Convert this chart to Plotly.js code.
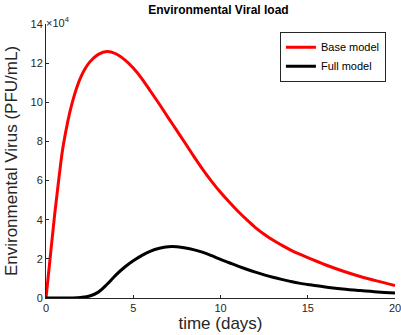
<!DOCTYPE html>
<html>
<head>
<meta charset="utf-8">
<script src="https://cdn.plot.ly/plotly-3.0.1.min.js"></script>
<style>html,body{margin:0;padding:0;background:#fff}#chart{width:401px;height:335px}</style>
</head>
<body>
<div id="chart"></div>
<script>
// Values in units of 10^4 PFU/mL
const baseT = [0, 0.25, 0.5, 0.75, 1, 1.5, 2, 2.5, 3, 3.5, 4, 4.5, 5, 5.5, 6, 6.5, 7, 7.5, 8, 8.5, 9, 9.5, 10, 10.5, 11, 11.5, 12, 12.5, 13, 13.5, 14, 14.5, 15, 16, 17, 18, 19, 20];
const baseV = [0, 2.15, 4.3, 6.2, 7.85, 9.97, 11.3, 12.05, 12.45, 12.6, 12.48, 12.18, 11.75, 11.2, 10.55, 9.9, 9.22, 8.55, 7.88, 7.2, 6.55, 5.95, 5.4, 4.9, 4.43, 4.0, 3.6, 3.26, 2.96, 2.7, 2.46, 2.25, 2.06, 1.7, 1.38, 1.1, 0.86, 0.64];
const fullT = [0, 0.5, 1, 1.5, 2, 2.5, 3, 3.5, 4, 4.5, 5, 5.5, 6, 6.5, 7, 7.5, 8, 8.5, 9, 9.5, 10, 10.5, 11, 11.5, 12, 12.5, 13, 13.5, 14, 14.5, 15, 16, 17, 18, 19, 20];
const fullV = [0, 0, 0, 0.005, 0.03, 0.1, 0.3, 0.7, 1.17, 1.57, 1.9, 2.18, 2.4, 2.54, 2.62, 2.62, 2.56, 2.46, 2.33, 2.16, 1.97, 1.8, 1.63, 1.47, 1.32, 1.18, 1.06, 0.95, 0.85, 0.76, 0.69, 0.56, 0.46, 0.38, 0.31, 0.26];
const xTicks = [0, 5, 10, 15, 20];
const yTicks = [0, 2, 4, 6, 8, 10, 12, 14];

const axisColor = '#262626';
const fontFam = 'Liberation Sans, Arial, sans-serif';

const traces = [
  {x: baseT, y: baseV, name: 'Base model', mode: 'lines', line: {color: '#ff0000', width: 3, shape: 'spline', smoothing: 1}},
  {x: fullT, y: fullV, name: 'Full model', mode: 'lines', line: {color: '#000000', width: 3, shape: 'spline', smoothing: 1}}
];

const layout = {
  width: 401, height: 335,
  margin: {l: 46, r: 6, t: 24, b: 37},
  paper_bgcolor: '#fff', plot_bgcolor: '#fff',
  font: {family: fontFam, color: axisColor, size: 11},
  title: {text: '<b>Environmental Viral load</b>', font: {size: 12, color: '#000', family: fontFam}, xref: 'paper', x: 0.494, xanchor: 'center', yref: 'container', y: 0.97, yanchor: 'middle'},
  showlegend: true,
  legend: {x: 0.974, xanchor: 'right', y: 0.972, yanchor: 'top', bgcolor: '#fff', bordercolor: '#262626', borderwidth: 1,
           font: {size: 11, color: '#000', family: fontFam}, tracegroupgap: 0, itemwidth: 30},
  xaxis: {range: [0, 20], tickvals: xTicks, ticks: 'inside', ticklen: 3, tickcolor: axisColor, ticklabeloverflow: 'allow',
          showline: true, linecolor: axisColor, linewidth: 1, showgrid: false, zeroline: false, mirror: false,
          tickfont: {size: 11, color: axisColor},
          title: {text: 'time (days)', font: {size: 17, color: axisColor}, standoff: 2}},
  yaxis: {range: [0, 14], tickvals: yTicks, ticks: 'inside', ticklen: 3, tickcolor: axisColor, ticklabeloverflow: 'allow',
          showline: true, linecolor: axisColor, linewidth: 1, showgrid: false, zeroline: false, mirror: false,
          tickfont: {size: 11, color: axisColor},
          title: {text: 'Environmental Virus (PFU/mL)', font: {size: 17, color: axisColor}, standoff: 8}},
  annotations: [
    {xref: 'paper', yref: 'paper', x: 0, y: 1, xanchor: 'left', yanchor: 'bottom', showarrow: false,
     text: '\u00d710<sup>4</sup>', font: {size: 11, color: axisColor}, xshift: -2, yshift: -7}
  ]
};

Plotly.newPlot('chart', traces, layout, {displayModeBar: false, staticPlot: true});
</script>
</body>
</html>
